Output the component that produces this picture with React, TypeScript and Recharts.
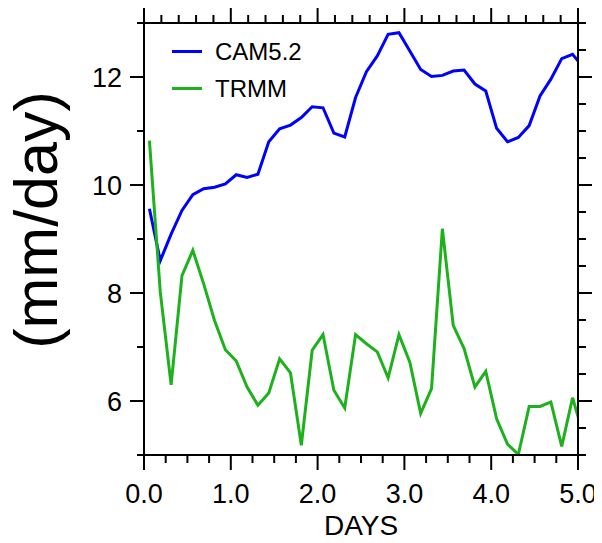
import { LineChart, Line, XAxis, YAxis, Legend } from 'recharts';

const FONT = '"Liberation Sans", Arial, Helvetica, sans-serif';

// 3-hourly means, centred on each interval (last one runs past day 5 and is clipped)
const days = [
  0.0625, 0.1875, 0.3125, 0.4375, 0.5625, 0.6875, 0.8125, 0.9375,
  1.0625, 1.1875, 1.3125, 1.4375, 1.5625, 1.6875, 1.8125, 1.9375,
  2.0625, 2.1875, 2.3125, 2.4375, 2.5625, 2.6875, 2.8125, 2.9375,
  3.0625, 3.1875, 3.3125, 3.4375, 3.5625, 3.6875, 3.8125, 3.9375,
  4.0625, 4.1875, 4.3125, 4.4375, 4.5625, 4.6875, 4.8125, 4.9375,
  5.0625,
];

const cam52 = [
  9.56, 8.60, 9.09, 9.53, 9.82, 9.93, 9.96, 10.02,
  10.19, 10.14, 10.20, 10.80, 11.04, 11.11, 11.25, 11.45,
  11.43, 10.96, 10.89, 11.62, 12.10, 12.39, 12.79, 12.82,
  12.48, 12.14, 12.01, 12.03, 12.11, 12.13, 11.87, 11.74,
  11.05, 10.80, 10.88, 11.10, 11.65, 11.96, 12.34, 12.42,
  12.18,
];

const trmm = [
  10.82, 8.02, 6.30, 8.32, 8.79, 8.17, 7.49, 6.95,
  6.74, 6.26, 5.92, 6.15, 6.78, 6.52, 5.18, 6.94,
  7.23, 6.20, 5.87, 7.23, 7.06, 6.91, 6.43, 7.23,
  6.72, 5.77, 6.23, 9.19, 7.40, 6.97, 6.26, 6.55,
  5.67, 5.20, 5.01, 5.90, 5.90, 5.98, 5.16, 6.06,
  5.37,
];

const xLabels = [0, 1, 2, 3, 4, 5];
const yLabels = [6, 8, 10, 12];

const steps = (from: number, to: number, step: number) => {
  const out: number[] = [];
  for (let i = 0; from + i * step <= to + 1e-9; i++) out.push(+(from + i * step).toFixed(4));
  return out;
};

const bottomTicks = steps(0, 5, 0.25);
const topTicks = steps(0, 5, 0.2);
const leftTicks = steps(5, 13, 1);
const rightTicks = steps(5, 13, 0.5);

const data = days.map((d, i) => ({ day: d, cam: cam52[i], trmm: trmm[i] }));

const isLabelled = (v: number, list: number[]) => list.some(l => Math.abs(l - v) < 1e-6);

function BottomTick({ x, y, payload }: any) {
  const v = payload.value;
  const major = isLabelled(v, xLabels);
  return (
    <g>
      <line x1={x} x2={x} y1={y} y2={y + (major ? 15 : 8)} stroke="#000" strokeWidth={2} />
      {major && (
        <text x={x} y={y + 48} textAnchor="middle" fontSize={27} fontFamily={FONT} fill="#000">
          {v.toFixed(1)}
        </text>
      )}
    </g>
  );
}

function TopTick({ x, y, payload }: any) {
  const major = isLabelled(payload.value, xLabels);
  return <line x1={x} x2={x} y1={y} y2={y - (major ? 15 : 8)} stroke="#000" strokeWidth={2} />;
}

function LeftTick({ x, y, payload }: any) {
  const v = payload.value;
  const major = isLabelled(v, yLabels);
  return (
    <g>
      <line x1={x} x2={x - (major ? 14 : 7)} y1={y} y2={y} stroke="#000" strokeWidth={2} />
      {major && (
        <text x={x - 22} y={y + 10} textAnchor="end" fontSize={27} fontFamily={FONT} fill="#000">
          {v}
        </text>
      )}
    </g>
  );
}

function RightTick({ x, y, payload }: any) {
  const major = isLabelled(payload.value, yLabels);
  return <line x1={x} x2={x + (major ? 14 : 8)} y1={y} y2={y} stroke="#000" strokeWidth={2} />;
}

const unitsLabel = ({ viewBox }: any) => {
  const cx = 36;
  const cy = viewBox.y + viewBox.height / 2 - 19;
  return (
    <text
      x={cx}
      y={cy}
      transform={`rotate(-90 ${cx} ${cy})`}
      textAnchor="middle"
      dominantBaseline="central"
      fontSize={61}
      fontFamily={FONT}
      fill="#000"
    >
      (mm/day)
    </text>
  );
};

const daysLabel = ({ viewBox }: any) => (
  <text
    x={viewBox.x + viewBox.width / 2}
    y={viewBox.y + 80}
    textAnchor="middle"
    fontSize={28}
    fontFamily={FONT}
    fill="#000"
  >
    DAYS
  </text>
);

function LegendBox({ payload }: any) {
  return (
    <div style={{ fontFamily: FONT, fontSize: 24, color: '#000' }}>
      {(payload || []).map((p: any) => (
        <div key={p.value} style={{ display: 'flex', alignItems: 'center', height: 37 }}>
          <span style={{ display: 'inline-block', width: 30, height: 3, background: p.color, marginRight: 13 }} />
          <span>{p.value}</span>
        </div>
      ))}
    </div>
  );
}

const axisLine = { stroke: '#000', strokeWidth: 2 };

export default function App() {
  return (
    <div style={{ width: 602, height: 535, marginLeft: -8 }}>
      <LineChart width={602} height={535} data={data} margin={{ top: 0, right: 0, bottom: 0, left: 0 }}>
        <XAxis
          dataKey="day"
          type="number"
          domain={[0, 5]}
          allowDataOverflow
          ticks={bottomTicks}
          interval={0}
          height={88}
          tickSize={0}
          tickMargin={0}
          tickLine={false}
          axisLine={axisLine}
          tick={<BottomTick />}
          label={daysLabel}
        />
        <XAxis
          xAxisId="top"
          orientation="top"
          dataKey="day"
          type="number"
          domain={[0, 5]}
          allowDataOverflow
          ticks={topTicks}
          interval={0}
          height={15}
          tickSize={0}
          tickMargin={0}
          tickLine={false}
          axisLine={axisLine}
          tick={<TopTick />}
        />
        <YAxis
          type="number"
          domain={[5, 13]}
          allowDataOverflow
          ticks={leftTicks}
          interval={0}
          width={144}
          tickSize={0}
          tickMargin={0}
          tickLine={false}
          axisLine={axisLine}
          tick={<LeftTick />}
          label={unitsLabel}
        />
        <YAxis
          yAxisId="right"
          orientation="right"
          dataKey="cam"
          type="number"
          domain={[5, 13]}
          allowDataOverflow
          ticks={rightTicks}
          interval={0}
          width={24}
          tickSize={0}
          tickMargin={0}
          tickLine={false}
          axisLine={axisLine}
          tick={<RightTick />}
        />
        <Legend
          layout="vertical"
          align="center"
          verticalAlign="middle"
          content={<LegendBox />}
          wrapperStyle={{ top: 25, left: 172, width: 'auto', height: 'auto' }}
        />
        <Line
          type="linear"
          dataKey="cam"
          name="CAM5.2"
          stroke="#0000ff"
          strokeWidth={3}
          dot={false}
          activeDot={false}
          isAnimationActive={false}
        />
        <Line
          type="linear"
          dataKey="trmm"
          name="TRMM"
          stroke="#1db21d"
          strokeWidth={3}
          dot={false}
          activeDot={false}
          isAnimationActive={false}
        />
      </LineChart>
    </div>
  );
}
